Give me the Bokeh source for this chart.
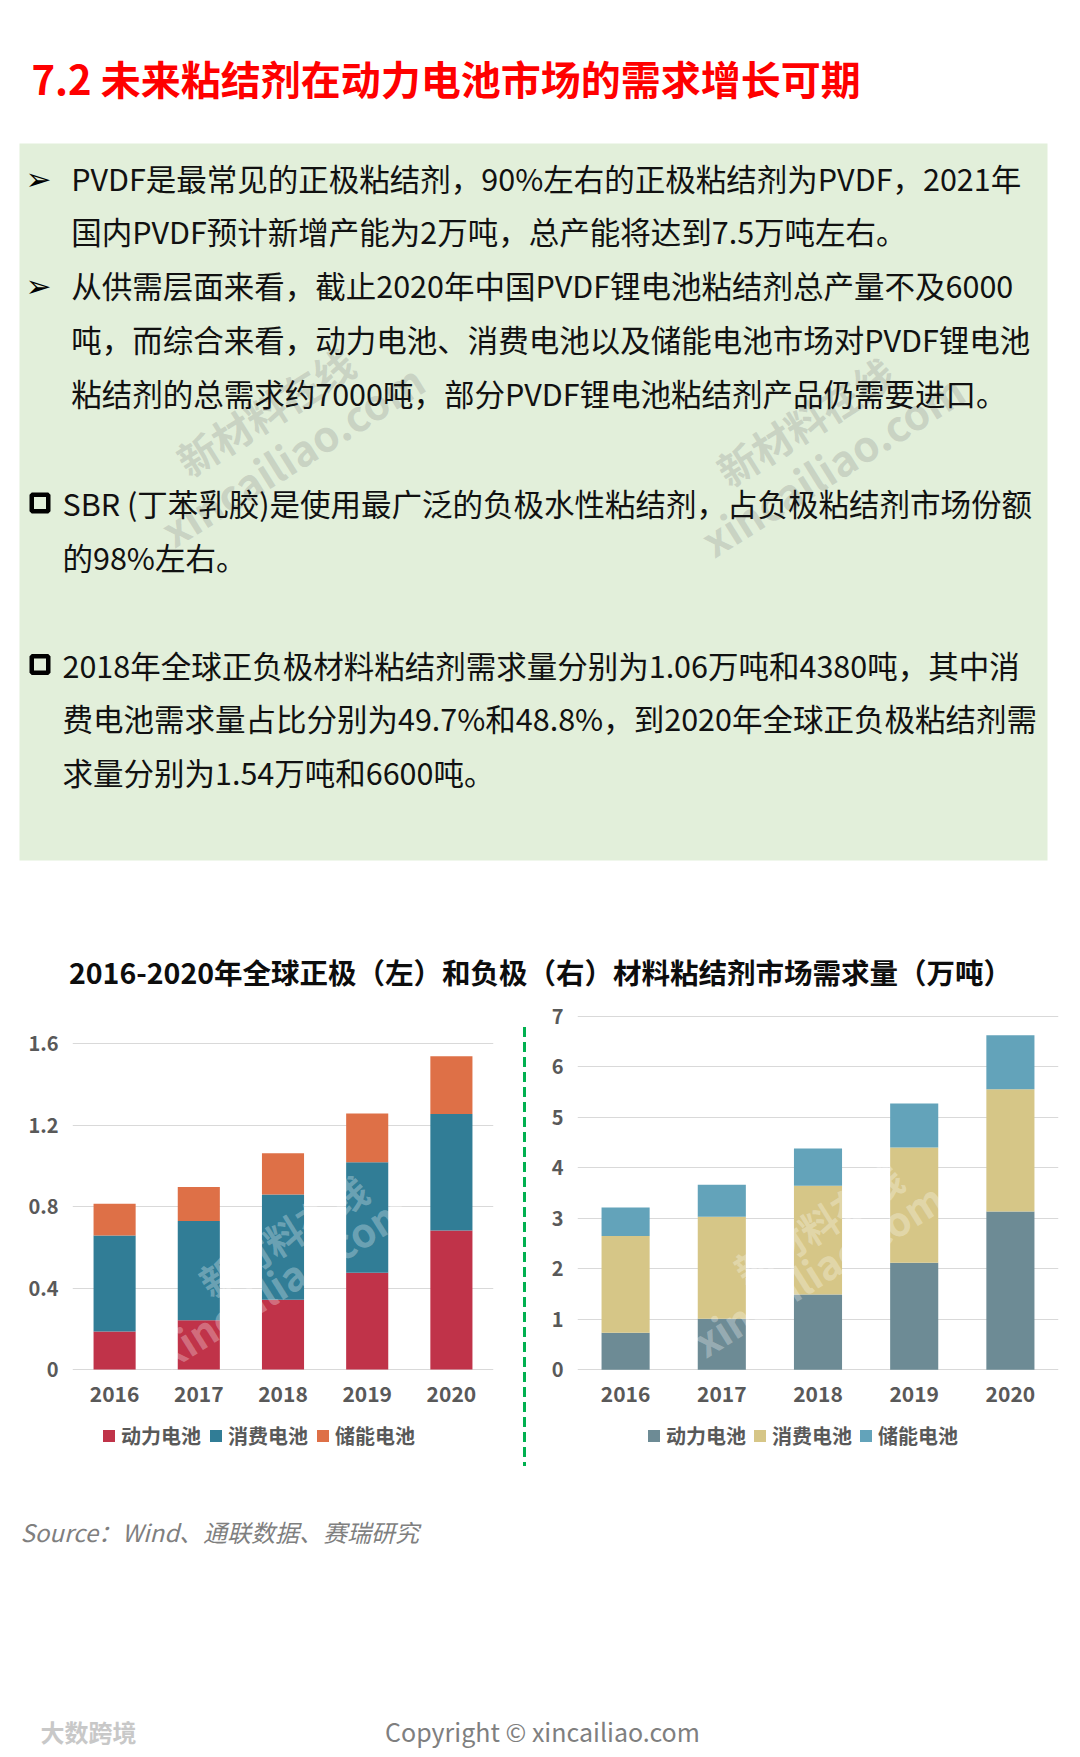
import math
from bokeh.plotting import figure
from bokeh.models import ColumnDataSource, Range1d, FactorRange, FixedTicker, Legend, LegendItem, Div
from bokeh.layouts import column, row
from bokeh.embed import file_html
from bokeh.resources import INLINE
from bokeh.core.properties import value

FONT = "Noto Sans CJK SC"

# ---------------- data ----------------
years = ["2016", "2017", "2018", "2019", "2020"]
series = ["动力电池", "消费电池", "储能电池"]

cathode_power = [0.187, 0.242, 0.343, 0.475, 0.683]
cathode_consumer = [0.471, 0.487, 0.517, 0.543, 0.572]
cathode_storage = [0.156, 0.167, 0.202, 0.239, 0.284]

anode_power = [0.73, 1.01, 1.49, 2.12, 3.13]
anode_consumer = [1.915, 2.02, 2.15, 2.28, 2.42]
anode_storage = [0.568, 0.63, 0.74, 0.87, 1.07]

left_ticks = [0, 0.4, 0.8, 1.2, 1.6]
left_tick_labels = ["0", "0.4", "0.8", "1.2", "1.6"]
right_ticks = [0, 1, 2, 3, 4, 5, 6, 7]
right_tick_labels = ["0", "1", "2", "3", "4", "5", "6", "7"]

left_colors = ["#C03349", "#317D96", "#DE7047"]
right_colors = ["#6D8B95", "#D6C687", "#63A3BA"]

page_title = "7.2 未来粘结剂在动力电池市场的需求增长可期"
chart_title = "2016-2020年全球正极（左）和负极（右）材料粘结剂市场需求量（万吨）"
arrow_lines = [
    "PVDF是最常见的正极粘结剂，90%左右的正极粘结剂为PVDF，2021年",
    "国内PVDF预计新增产能为2万吨，总产能将达到7.5万吨左右。",
    "从供需层面来看，截止2020年中国PVDF锂电池粘结剂总产量不及6000",
    "吨，而综合来看，动力电池、消费电池以及储能电池市场对PVDF锂电池",
    "粘结剂的总需求约7000吨，部分PVDF锂电池粘结剂产品仍需要进口。",
]
square_lines = [
    "SBR (丁苯乳胶)是使用最广泛的负极水性粘结剂，占负极粘结剂市场份额",
    "的98%左右。",
    "2018年全球正负极材料粘结剂需求量分别为1.06万吨和4380吨，其中消",
    "费电池需求量占比分别为49.7%和48.8%，到2020年全球正负极粘结剂需",
    "求量分别为1.54万吨和6600吨。",
]
source_text = "Source：Wind、通联数据、赛瑞研究"
copyright_text = "Copyright © xincailiao.com"
logo_text = "大数跨境"

PAGE_W = 1072


def page_fig(y0, y1, x0=0, x1=PAGE_W):
    p = figure(width=int(x1 - x0), height=int(y1 - y0),
               x_range=Range1d(x0, x1), y_range=Range1d(y1, y0),
               output_backend="svg", toolbar_location=None,
               x_axis_location=None, y_axis_location=None, min_border=0)
    p.grid.visible = False
    p.outline_line_color = None
    return p


def watermark(p, cx, cy, color="#808080", alpha=0.26):
    ang = 0.56
    dx, dy = math.sin(ang) * 25, math.cos(ang) * 25
    p.text(x=[cx - dx], y=[cy - dy], text=["新材料在线"], angle=ang,
           text_font=value(FONT), text_font_style="bold", text_font_size="40px",
           text_color=color, text_alpha=alpha, text_align="center", text_baseline="middle")
    p.text(x=[cx + dx], y=[cy + dy], text=["xincailiao.com"], angle=ang,
           text_font=value(FONT), text_font_style="bold", text_font_size="42px",
           text_color=color, text_alpha=alpha, text_align="center", text_baseline="middle")


# ---------------- top block ----------------
top = page_fig(0, 1000)
top.text(x=[31], y=[77], text=[page_title], text_font=value(FONT), text_font_style="bold",
         text_font_size="40px", text_color="#FF0000", text_baseline="middle")
top.quad(left=[19], right=[1047], top=[143], bottom=[860], fill_color="#E2EFDA", line_color=None)

watermark(top, 278, 432)
watermark(top, 818, 442)

line_step = 53.9
arrow_y = [177 + i * line_step for i in range(5)]
top.text(x=[70.7] * 5, y=arrow_y, text=arrow_lines, text_font=value(FONT), text_font_size="30.5px",
         text_color="#111111", text_baseline="middle")
top.text(x=[25, 25], y=[arrow_y[0] + 1, arrow_y[2] + 1], text=["➢", "➢"], text_font=value("DejaVu Sans"),
         text_font_size="31px", text_color="#000000", text_baseline="middle")

sq_y = [502.5, 502.5 + line_step, 664, 664 + line_step, 664 + 2 * line_step]
top.text(x=[62] * 5, y=sq_y, text=square_lines, text_font=value(FONT), text_font_size="30.5px",
         text_color="#111111", text_baseline="middle")
top.rect(x=[39.5, 39.5], y=[sq_y[0], sq_y[2]], width=16.5, height=16.5, fill_color=None,
         line_color="#000000", line_width=4.5)

top.text(x=[540], y=[970.5], text=[chart_title], text_font=value(FONT), text_font_style="bold",
         text_font_size="28.5px", text_color="#0D0D0D", text_align="center", text_baseline="middle")


# ---------------- charts ----------------
# every chart frame spans page y 1008..1470; value 0 sits at page y ~1369
BT, BB = 8, 10


def chart(width, bl, br, y_start, y_end, ticks, tick_labels, vals, colors, leg_vx, spacing, wm):
    src = ColumnDataSource(dict(year=years, a=vals[0], b=vals[1], c=vals[2]))
    p = figure(width=width, height=480, x_range=FactorRange(*years), y_range=Range1d(y_start, y_end),
               output_backend="svg", toolbar_location=None,
               min_border_left=bl, min_border_right=br, min_border_top=BT, min_border_bottom=BB)
    rs = p.vbar_stack(["a", "b", "c"], x="year", width=0.5, color=colors, line_color=None,
                      source=src)
    p.outline_line_color = None
    p.xgrid.grid_line_color = None
    p.ygrid.grid_line_color = "#D9D9D9"
    p.ygrid.grid_line_width = 1
    for ax in (p.xaxis, p.yaxis):
        ax.axis_line_color = None
        ax.major_tick_line_color = None
        ax.minor_tick_line_color = None
        ax.major_label_text_font = FONT
        ax.major_label_text_font_style = "bold"
        ax.major_label_text_color = "#595959"
    p.xaxis.fixed_location = 0
    p.xaxis.major_label_standoff = 10
    p.yaxis.major_label_standoff = 8
    p.xaxis.major_label_text_font_size = "21px"
    p.yaxis.major_label_text_font_size = "20px"
    p.yaxis.ticker = FixedTicker(ticks=ticks)
    p.yaxis.major_label_overrides = {t: s for t, s in zip(ticks, tick_labels)}

    leg = Legend(items=[LegendItem(label=s, renderers=[r]) for s, r in zip(series, rs)])
    leg.location = (leg_vx, 20)
    leg.orientation = "horizontal"
    leg.border_line_color = None
    leg.background_fill_alpha = 0
    leg.padding = 0
    leg.margin = 0
    leg.spacing = spacing
    leg.label_standoff = 5
    leg.glyph_width = 15
    leg.glyph_height = 15
    leg.label_text_font = FONT
    leg.label_text_font_style = "bold"
    leg.label_text_font_size = "20px"
    leg.label_text_color = "#595959"
    p.add_layout(leg, "center")

    # faint watermark inside the frame
    p.text(x=[wm[0]], y=[wm[1]], text=["新材料在线"], angle=0.56,
           text_font=value(FONT), text_font_style="bold", text_font_size="38px",
           text_color="#FFFFFF", text_alpha=0.3, text_align="center", text_baseline="middle")
    p.text(x=[wm[0]], y=[wm[2]], text=["xincailiao.com"], angle=0.56,
           text_font=value(FONT), text_font_style="bold", text_font_size="40px",
           text_color="#FFFFFF", text_alpha=0.3, text_align="center", text_baseline="middle")
    return p


# left figure: page x 0..505 ; frame x 72..493
left = chart(505, 72, 12, -0.496, 1.773, left_ticks, left_tick_labels,
             [cathode_power, cathode_consumer, cathode_storage], left_colors, 29, 7,
             ("2018", 0.66, 0.44))
# right figure: page x 535..1072 ; frame x 577..1058
right = chart(537, 42, 14, -1.994, 7.15, right_ticks, right_tick_labels,
              [anode_power, anode_consumer, anode_storage], right_colors, 69, 6,
              ("2018", 2.9, 2.0))

# divider: dashed green vertical rule (page x 505..535)
dash_css = ("margin-left:18px;margin-top:27px;width:3px;height:439px;"
            "background:repeating-linear-gradient(to bottom,#00B050 0px,#00B050 10px,"
            "transparent 10px,transparent 15px);")
div = Div(text=f'<div style="{dash_css}"></div>', width=30, height=480,
          styles={"margin": "0", "padding": "0"})

# ---------------- bottom block ----------------
bottom = page_fig(1480, 1756)
bottom.text(x=[20], y=[1531], text=[source_text], text_font=value(FONT), text_font_style="italic",
            text_font_size="24px", text_color="#7F7F7F", text_baseline="middle")
bottom.text(x=[542], y=[1730], text=[copyright_text], text_font=value(FONT),
            text_font_size="25px", text_color="#7F7F7F", text_align="center", text_baseline="middle")
bottom.text(x=[40], y=[1731], text=[logo_text], text_font=value(FONT), text_font_style="bold",
            text_font_size="24px", text_color="#C8C8C8", text_baseline="middle")

layout = column(top, row(left, div, right), bottom)
open("out.html", "w").write(file_html(layout, INLINE))
